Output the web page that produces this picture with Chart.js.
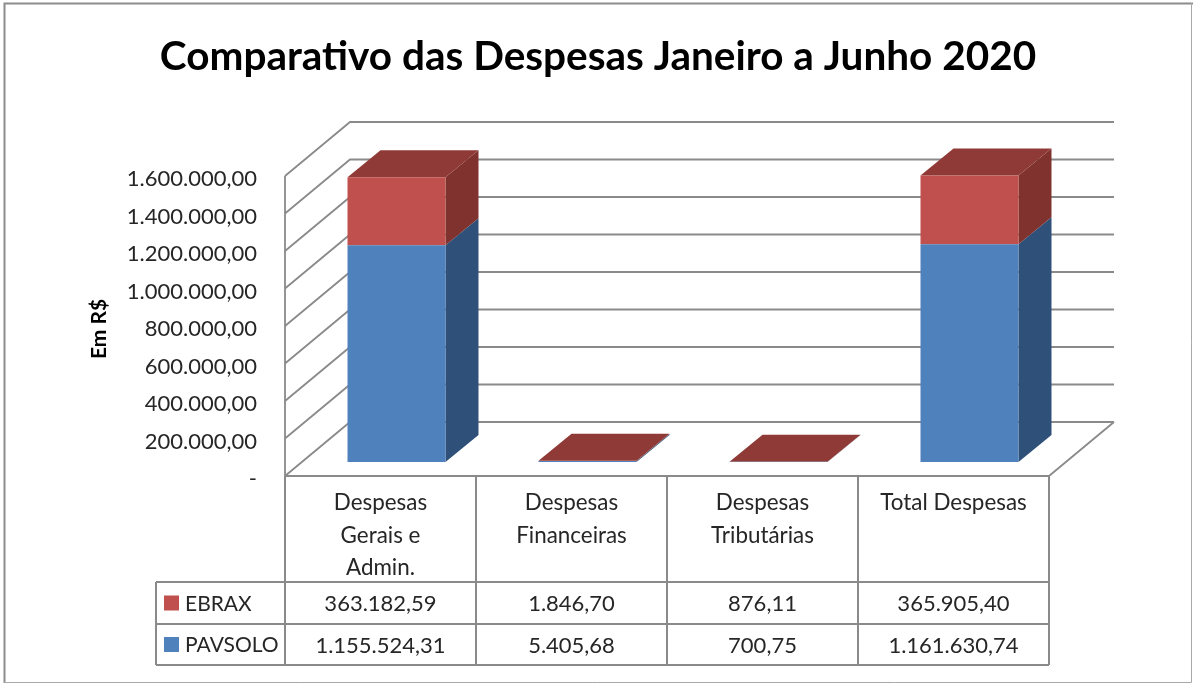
<!DOCTYPE html>
<html><head><meta charset="utf-8">
<style>html,body{margin:0;padding:0;background:#fff}canvas{display:block}</style>
<script src="https://cdn.jsdelivr.net/npm/chart.js@4"></script>
</head><body>
<canvas id="c" width="1193" height="683"></canvas>
<script>
const chartTitle = 'Comparativo das Despesas Janeiro a Junho 2020';
const axisTitle = 'Em R$';
const categories = [['Despesas','Gerais e','Admin.'],['Despesas','Financeiras'],['Despesas','Tributárias'],['Total Despesas']];
const seriesNames = ['PAVSOLO','EBRAX'];
const pavsolo = [1155524.31, 5405.68, 700.75, 1161630.74];
const ebrax = [363182.59, 1846.70, 876.11, 365905.40];
const yTicks = [0,200000,400000,600000,800000,1000000,1200000,1400000,1600000];

const FONT = 'Lato, Carlito, Calibri, sans-serif';
const TEXT = '#262626', LINE = '#8a8a8a';
const fmt = v => v === 0 ? '-' : v.toLocaleString('pt-BR',{minimumFractionDigits:2,maximumFractionDigits:2});

const W = {dx:65, dy:-54, lift:-3};      // wall depth, wall offset from the label positions
const B = {sx:16, sy:-17, dx:33, dy:-27}; // bar plane offset, bar depth
const faces = [
  {side:'#2f5079', top:'#2f5079'},
  {side:'#7f322e', top:'#8f3a36'}
];
const front = ['#4f81bd','#c0504d'];

function poly(ctx, pts, color){
  ctx.fillStyle = color; ctx.beginPath();
  pts.forEach((p,i)=> i? ctx.lineTo(p[0],p[1]) : ctx.moveTo(p[0],p[1]));
  ctx.closePath(); ctx.fill();
}

const scene = {
  id:'scene',
  beforeDraw(chart){
    const {ctx, chartArea:a, scales:{x,y}} = chart;
    ctx.save();
    // outer frame
    ctx.strokeStyle='#8c8c8c'; ctx.lineWidth=2;
    ctx.beginPath(); ctx.moveTo(4.5,683); ctx.lineTo(4.5,3.5); ctx.lineTo(1193,3.5); ctx.stroke();
    ctx.strokeStyle='#a8a8a8'; ctx.lineWidth=1;
    ctx.beginPath(); ctx.moveTo(1191.5,3); ctx.lineTo(1191.5,682.5); ctx.lineTo(4,682.5); ctx.stroke();
    // walls
    ctx.strokeStyle=LINE; ctx.lineWidth=1.8;
    ctx.beginPath();
    y.ticks.forEach((t,i)=>{
      const py = y.getPixelForTick(i)+W.lift;
      ctx.moveTo(a.left,py); ctx.lineTo(a.left+W.dx,py+W.dy); ctx.lineTo(a.right+W.dx,py+W.dy);
    });
    const top = y.getPixelForValue(yTicks[yTicks.length-1])+W.lift, bot = y.getPixelForValue(0)+W.lift;
    ctx.moveTo(a.left,top); ctx.lineTo(a.left,bot);
    ctx.moveTo(a.right,bot); ctx.lineTo(a.right+W.dx,bot+W.dy);
    ctx.stroke();
    // data table
    const rows = [bot+106, bot+148, bot+189];
    const left = 156;
    ctx.lineWidth=2;
    ctx.beginPath();
    ctx.moveTo(a.left,bot); ctx.lineTo(a.right,bot);
    rows.forEach(r=>{ctx.moveTo(left,r); ctx.lineTo(a.right,r);});
    ctx.moveTo(left,rows[0]); ctx.lineTo(left,rows[2]);
    const step = (a.right-a.left)/categories.length;
    for(let i=0;i<=categories.length;i++){
      const px = a.left+i*step; ctx.moveTo(px,bot); ctx.lineTo(px,rows[2]);
    }
    ctx.stroke();
    ctx.fillStyle=TEXT; ctx.textBaseline='middle';
    const tableSeries = [[1,ebrax],[0,pavsolo]];
    tableSeries.forEach(([s,vals],r)=>{
      const cy = (rows[r]+rows[r+1])/2;
      ctx.fillStyle = front[s];
      ctx.fillRect(164, cy-7.5, 15, 15);
      ctx.fillStyle = TEXT; ctx.textAlign='left';
      ctx.font = '21px '+FONT;
      ctx.fillText(seriesNames[s], 185, cy+1);
      ctx.textAlign='center';
      ctx.font = '22px '+FONT;
      vals.forEach((v,i)=>ctx.fillText(fmt(v), x.getPixelForValue(i), cy+1));
    });
    ctx.restore();
  },
  beforeDatasetsDraw(chart){
    const ctx = chart.ctx;
    ctx.save();
    ctx.translate(B.sx,B.sy);
    chart.data.datasets.forEach((ds,d)=>{
      chart.getDatasetMeta(d).data.forEach(b=>{
        const l=b.x-b.width/2, r=b.x+b.width/2, t=b.y, bs=b.base;
        poly(ctx,[[r,bs],[r+B.dx,bs+B.dy],[r+B.dx,t+B.dy],[r,t]],faces[d].side);
        if(d===chart.data.datasets.length-1)
          poly(ctx,[[l,t],[r,t],[r+B.dx,t+B.dy],[l+B.dx,t+B.dy]],faces[d].top);
      });
    });
  },
  afterDatasetsDraw(chart){ chart.ctx.restore(); }
};

new Chart(document.getElementById('c'),{
  type:'bar',
  data:{labels:categories,datasets:[
    {label:seriesNames[0],data:pavsolo,backgroundColor:front[0],borderWidth:0},
    {label:seriesNames[1],data:ebrax,backgroundColor:front[1],borderWidth:0}
  ]},
  plugins:[scene],
  options:{
    responsive:false, animation:false, devicePixelRatio:1,
    layout:{autoPadding:false,padding:{left:3,top:0,right:0,bottom:0}},
    plugins:{
      legend:{display:false}, tooltip:{enabled:false},
      title:{display:true,text:chartTitle,color:'#000',font:{family:FONT,size:40.5,weight:'bold',lineHeight:1.2},padding:{top:33,bottom:97.4}}
    },
    datasets:{bar:{categoryPercentage:1,barPercentage:0.513}},
    scales:{
      x:{stacked:true,
        grid:{display:false,drawTicks:false},border:{display:false},
        ticks:{color:TEXT,font:{family:FONT,size:22.4,lineHeight:1.45},maxRotation:0,minRotation:0,autoSkip:false,padding:8},
        afterFit(s){s.height=204;}
      },
      y:{stacked:true,min:0,max:1600000,
        grid:{display:false,drawTicks:false},border:{display:false},
        afterBuildTicks(s){s.ticks=yTicks.map(v=>({value:v}));},
        ticks:{color:TEXT,font:{family:FONT,size:22},padding:28,callback:v=>fmt(v)},
        title:{display:true,text:axisTitle,color:'#000',font:{family:FONT,size:21,weight:'bold'},padding:{top:84,bottom:0}},
        afterFit(s){s.width=282;}
      },
      spacer:{axis:'y',position:'right',
        grid:{display:false,drawTicks:false},border:{display:false},
        ticks:{display:false},
        afterFit(s){s.width=144;}
      }
    }
  }
});
</script>
</body></html>
